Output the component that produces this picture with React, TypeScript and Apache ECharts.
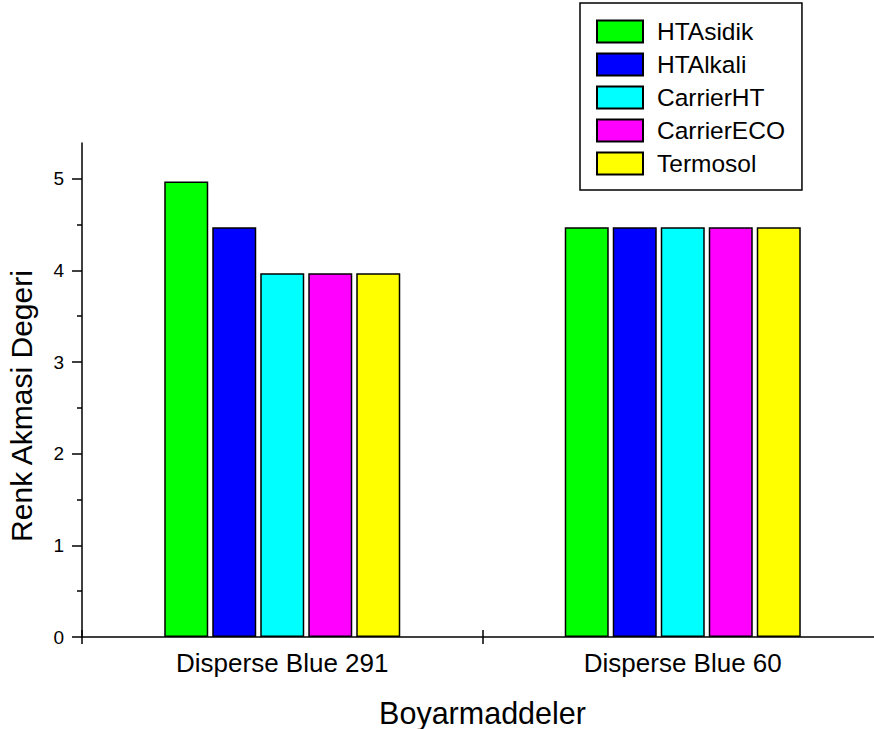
import React, { useEffect, useRef } from "react";
import * as echarts from "echarts";

const categories = ["Disperse Blue 291", "Disperse Blue 60"];
const seriesNames = ["HTAsidik", "HTAlkali", "CarrierHT", "CarrierECO", "Termosol"];
const htAsidik = [4.97, 4.47];
const htAlkali = [4.47, 4.47];
const carrierHT = [3.97, 4.47];
const carrierECO = [3.97, 4.47];
const termosol = [3.97, 4.47];
const seriesColors = ["#00FF00", "#0000FF", "#00FFFF", "#FF00FF", "#FFFF00"];
const yMajorTicks = [0, 1, 2, 3, 4, 5];
const yMinorTicks = [0.5, 1.5, 2.5, 3.5, 4.5];
const yMax = 5.39;

const FONT = "'Liberation Sans', Arial, Helvetica, sans-serif";

export default function App() {
  const ref = useRef<HTMLDivElement>(null);
  useEffect(() => {
    if (!ref.current) return;
    const chart = echarts.init(ref.current, undefined, { renderer: "svg" });
    const values = [htAsidik, htAlkali, carrierHT, carrierECO, termosol];
    const option: any = {
      animation: false,
      backgroundColor: "#ffffff",
      textStyle: { fontFamily: FONT, color: "#000" },
      grid: { left: 82, top: 143, width: 801, height: 494, containLabel: false, outerBoundsMode: "none" },
      legend: {
        orient: "vertical",
        left: 580,
        top: 3,
        data: seriesNames,
        icon: "rect",
        itemWidth: 46,
        itemHeight: 22,
        itemGap: 8,
        padding: [16, 17, 14, 16],
        borderColor: "#000",
        borderWidth: 1.5,
        borderRadius: 0,
        textStyle: { fontSize: 24.5, color: "#000", fontFamily: FONT, padding: [0, 0, 0, 9] },
      },
      xAxis: [
        {
          type: "category",
          data: categories,
          position: "bottom",
          name: "Boyarmaddeler",
          nameLocation: "middle",
          nameGap: 60,
          nameTextStyle: { fontSize: 30.5, color: "#000", fontFamily: FONT },
          axisLine: { show: true, lineStyle: { color: "#000", width: 1.5 } },
          axisTick: { show: true, inside: false, length: 7, lineStyle: { color: "#000", width: 1.5 } },
          axisLabel: { fontSize: 26, color: "#000", margin: 13, fontFamily: FONT },
          splitLine: { show: false },
        },
        {
          type: "category",
          data: categories,
          position: "bottom",
          axisLine: { show: false },
          axisTick: { show: true, inside: true, length: 7, lineStyle: { color: "#000", width: 1.5 } },
          axisLabel: { show: false },
          splitLine: { show: false },
        },
      ],
      yAxis: [
        {
          type: "value",
          min: 0,
          max: yMax,
          position: "left",
          name: "Renk Akmasi Degeri",
          nameLocation: "middle",
          nameRotate: 90,
          nameGap: 46,
          nameTextStyle: { fontSize: 30, color: "#000", fontFamily: FONT, padding: [0, 32, 0, 0] },
          axisLine: { show: true, lineStyle: { color: "#000", width: 1.5 } },
          axisTick: { show: true, length: 10, customValues: yMajorTicks, lineStyle: { color: "#000", width: 1.5 } },
          axisLabel: { fontSize: 19, color: "#000", margin: 18, customValues: yMajorTicks, fontFamily: FONT },
          splitLine: { show: false },
        },
        {
          type: "value",
          min: 0,
          max: yMax,
          position: "left",
          axisLine: { show: false },
          axisTick: { show: true, length: 5, customValues: yMinorTicks, lineStyle: { color: "#000", width: 1.5 } },
          axisLabel: { show: false },
          splitLine: { show: false },
        },
      ],
      series: seriesNames.map((name, i) => ({
        name,
        type: "bar",
        xAxisIndex: 0,
        yAxisIndex: 0,
        data: values[i],
        barWidth: 44,
        barGap: "9.1%",
        itemStyle: { color: seriesColors[i], borderColor: "#000", borderWidth: 1.5 },
      })),
    };
    chart.setOption(option);
    return () => chart.dispose();
  }, []);
  return (
    <div
      ref={ref}
      style={{ position: "absolute", left: 0, top: 0, width: 874, height: 729 }}
    />
  );
}
